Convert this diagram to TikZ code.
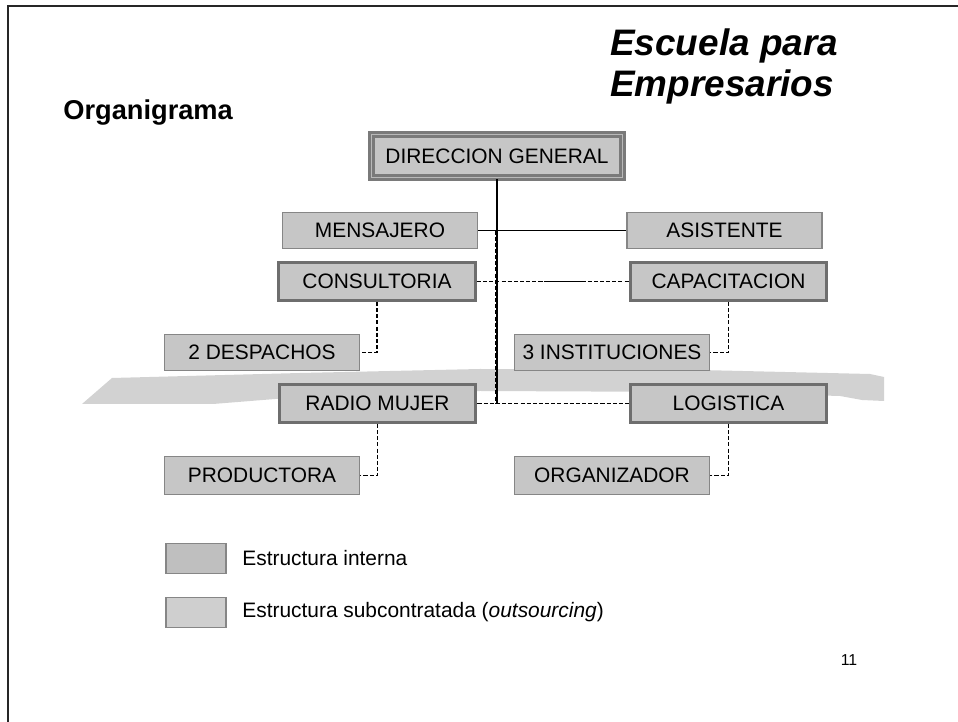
\documentclass[tikz,border=0pt]{standalone}
\usepackage{fontspec}
\setmainfont{Liberation Sans}
\usetikzlibrary{calc}

\begin{document}
\begin{tikzpicture}[x=0.02cm, y=-0.02cm,
    box/.style={rectangle, fill=gray!45, draw=gray!95, line width=0.7pt, minimum width=3.9cm, minimum height=0.72cm, inner sep=0pt, font=\fontsize{11.9}{14}\selectfont},
    mainbox/.style={box, draw=black!57, line width=1.7pt, minimum width=3.94cm, minimum height=0.76cm},
    topbox/.style={box, draw=black!52, line width=1.6pt, double=gray!55, double distance=0.7pt, minimum width=5.02cm, minimum height=0.86cm},
    legbox/.style={box, minimum width=1.2cm, minimum height=0.6cm},
    legtext/.style={anchor=west, inner sep=0pt, font=\fontsize{11.9}{14}\selectfont},
    conn/.style={line width=1.1pt},
    dconn/.style={line width=0.9pt, dash pattern=on 2.3pt off 1.2pt}]
    \useasboundingbox (0,0) rectangle (958,722);
    \draw[line width=1.2pt, black!85] (8,722) -- (8,6) -- (958,6);
    \fill[gray!35] (82,404) -- (112,378) -- (300,373) -- (480,369) -- (700,370) -- (870,374) -- (884,377)
        -- (884,401) -- (862,400) -- (840,396) -- (700,392) -- (480,391) -- (300,397) -- (213,404) -- cycle;

    \node[anchor=north west, align=left, inner sep=0pt, font=\bfseries\itshape\fontsize{21}{23.5}\selectfont] (title) at (610,28) {Escuela para\\Empresarios};
    \node[anchor=west, inner sep=0pt, font=\bfseries\fontsize{15.5}{18}\selectfont] (orgtitle) at (63,113) {Organigrama};

    \node[topbox] (dg) at (497,156) {DIRECCION GENERAL};
    \node[box] (mens) at (380,230.5) {MENSAJERO};
    \node[box] (asis) at (724.5,230.5) {ASISTENTE};
    \node[mainbox] (cons) at (377,281.5) {CONSULTORIA};
    \node[mainbox] (capa) at (728.5,281.5) {CAPACITACION};
    \node[box] (desp) at (262,352.5) {2 DESPACHOS};
    \node[box] (inst) at (612,352.5) {3 INSTITUCIONES};
    \node[mainbox] (radio) at (377.5,403.5) {RADIO MUJER};
    \node[mainbox] (logi) at (728.5,403.5) {LOGISTICA};
    \node[box, minimum height=0.76cm] (prod) at (262,475.5) {PRODUCTORA};
    \node[box, minimum height=0.76cm] (orga) at (612,475.5) {ORGANIZADOR};

    \draw[conn] (dg.south) -- (dg.south |- radio.east);
    \draw[dconn] ($(dg.south |- mens.east)+(-1.5,0)$) -- ($(dg.south |- radio.east)+(-1.5,0)$);
    \draw[conn] (mens.east) -- (asis.west);
    \draw[dconn] (cons.east) -- (capa.west);
    \draw[conn] ($(cons.east)!0.44!(capa.west)$) -- ($(cons.east)!0.69!(capa.west)$);
    \draw[dconn] (radio.east) -- (logi.west);
    \draw[dconn]
        (cons.south) |- (desp.east)
        (capa.south) |- (inst.east)
        (radio.south) |- (prod.east)
        (logi.south) |- (orga.east);

    \node[legbox, fill=gray!50] (legint) at (196,558.5) {};
    \node[legbox, fill=gray!38] (legsub) at (196,612.5) {};
    \node[legtext] (txtint) at (242,558.5) {Estructura interna};
    \node[legtext] (txtsub) at (242,612.5) {Estructura subcontratada (\textit{outsourcing})};
    \node[font=\fontsize{9}{11}\selectfont] (pagenum) at (849,660) {11};
\end{tikzpicture}
\end{document}
